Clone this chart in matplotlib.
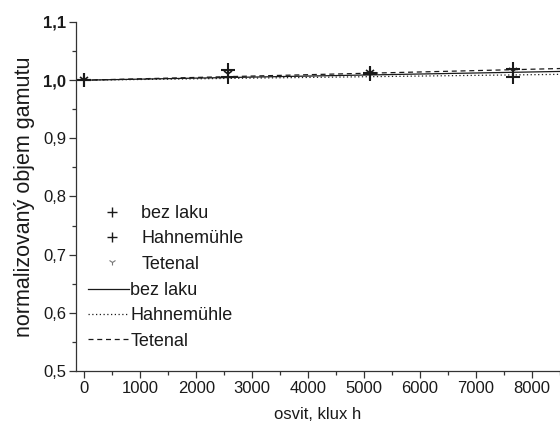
import matplotlib
matplotlib.use("Agg")
import matplotlib.pyplot as plt
from matplotlib.lines import Line2D
from matplotlib.ticker import MultipleLocator, FuncFormatter

plt.rcParams['font.family'] = ['Liberation Sans', 'DejaVu Sans']

# exposure (klux h) and normalized gamut volume
exposure = [0, 2560, 5110, 7660]
bez_laku = [1.000, 1.018, 1.012, 1.019]
hahnemuhle = [1.000, 1.006, 1.010, 1.006]
tetenal = [1.000, 1.010, 1.013, 1.016]

# linear trend lines
fit_x = [0, 8500]
fit_bez_laku = [1.000, 1.015]
fit_hahnemuhle = [1.000, 1.010]
fit_tetenal = [1.000, 1.020]

labels = ["bez laku", "Hahnemühle", "Tetenal"]

W, H = 560, 429
fig = plt.figure(figsize=(W / 100, H / 100), dpi=100)
ax = fig.add_axes([76 / W, (H - 371) / H, 1 - 76 / W, (371 - 22) / H])

ink = "#1a1a1a"
ax.plot(fit_x, fit_bez_laku, color=ink, lw=0.9, ls="-")
ax.plot(fit_x, fit_hahnemuhle, color=ink, lw=0.9, ls=(0, (1, 2)))
ax.plot(fit_x, fit_tetenal, color=ink, lw=0.9, ls=(0, (4, 3)))

ax.plot(exposure, bez_laku, ls="none", marker="+", ms=10, mew=1.5, color=ink)
ax.plot(exposure, hahnemuhle, ls="none", marker="+", ms=10, mew=1.5, color=ink)
ax.plot(exposure, tetenal, ls="none", marker="1", ms=8, mew=1.2, color=ink)

ax.set_xlim(-150, 8500)
ax.set_ylim(0.5, 1.1)
ax.xaxis.set_major_locator(MultipleLocator(1000))
ax.xaxis.set_minor_locator(MultipleLocator(500))
ax.yaxis.set_major_locator(MultipleLocator(0.1))
ax.yaxis.set_minor_locator(MultipleLocator(0.05))
ax.yaxis.set_major_formatter(FuncFormatter(lambda v, p: f"{v:.1f}".replace(".", ",")))
ax.xaxis.set_major_formatter(FuncFormatter(lambda v, p: f"{v:.0f}"))

for s in ("top", "right"):
    ax.spines[s].set_visible(False)
for s in ("left", "bottom"):
    ax.spines[s].set_color("#333333")
    ax.spines[s].set_linewidth(0.9)
ax.tick_params(which="major", direction="out", length=5, width=0.9, color="#333333",
               labelsize=12, labelcolor=ink, pad=2)
ax.tick_params(which="minor", direction="out", length=3, width=0.9, color="#333333")

fig.canvas.draw()
for lbl in ax.get_yticklabels():
    if lbl.get_text() in ("1,0", "1,1"):
        lbl.set_fontweight("bold")

ax.set_xlabel("osvit, klux h", fontsize=12, color=ink, labelpad=8)
ax.set_ylabel("normalizovaný objem gamutu", fontsize=15.5, color=ink, labelpad=6)

marker_handles = [
    Line2D([], [], ls="none", marker="+", ms=7, mew=1.0, color=ink),
    Line2D([], [], ls="none", marker="+", ms=7, mew=1.0, color=ink),
    Line2D([], [], ls="none", marker="1", ms=5, mew=0.8, color="#777777"),
]
line_handles = [
    Line2D([], [], color=ink, lw=0.9, ls="-"),
    Line2D([], [], color=ink, lw=0.9, ls=(0, (1, 2))),
    Line2D([], [], color=ink, lw=0.9, ls=(0, (4, 3))),
]

fs = 13
leg1 = ax.legend(marker_handles, labels, loc="upper left", frameon=False,
                 bbox_to_anchor=(98 / W, (H - 205) / H), bbox_transform=fig.transFigure,
                 fontsize=fs, handlelength=1.6, handletextpad=0.8, labelspacing=0.46,
                 borderpad=0, borderaxespad=0, labelcolor=ink)
ax.add_artist(leg1)
ax.legend(line_handles, labels, loc="upper left", frameon=False,
          bbox_to_anchor=(88 / W, (H - 282) / H), bbox_transform=fig.transFigure,
          fontsize=fs, handlelength=2.25, handletextpad=0.1, labelspacing=0.46,
          borderpad=0, borderaxespad=0, labelcolor=ink)

fig.savefig("out.png", dpi=100)
